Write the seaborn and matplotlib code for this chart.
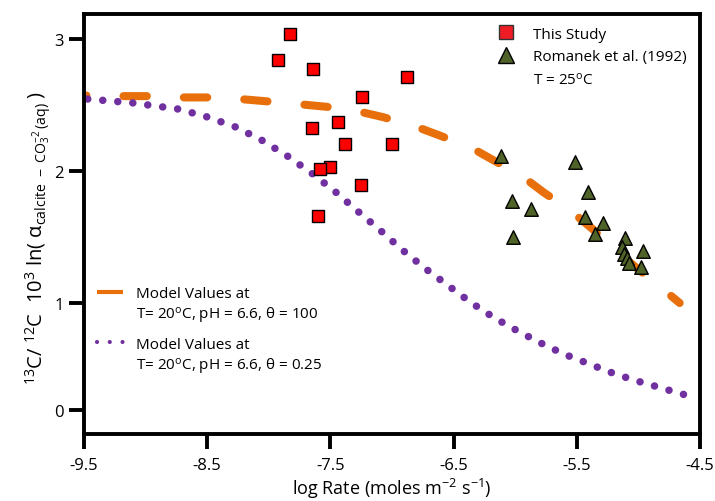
import numpy as np
import pandas as pd
import matplotlib
matplotlib.use("Agg")
import matplotlib.pyplot as plt
import seaborn as sns
from matplotlib.lines import Line2D

# ---------------- data ----------------
study_x = [-7.825, -7.923, -7.641, -6.880, -7.242, -7.652, -7.437, -7.380,
           -7.002, -7.506, -7.587, -7.248, -7.598]
study_y = [3.04, 2.847, 2.776, 2.713, 2.561, 2.328, 2.374, 2.207,
           2.207, 2.030, 2.019, 1.896, 1.663]

romanek_x = [-6.118, -5.516, -6.028, -5.869, -6.018, -5.413, -5.430, -5.286,
             -5.354, -5.110, -5.134, -5.118, -5.093, -5.077, -4.963, -4.980]
romanek_y = [2.118, 2.068, 1.776, 1.713, 1.499, 1.840, 1.650, 1.607,
             1.524, 1.493, 1.425, 1.372, 1.342, 1.304, 1.395, 1.273]

model100_x = [-9.5, -9.2, -8.95, -8.74, -8.49, -8.26, -8.01, -7.77, -7.54,
              -7.30, -7.07, -6.81, -6.61, -6.36, -6.17, -5.94, -5.77, -5.55,
              -5.37, -5.20, -5.02, -4.82, -4.665]
model100_y = [2.575, 2.57, 2.57, 2.56, 2.56, 2.55, 2.53, 2.51, 2.49,
              2.46, 2.41, 2.34, 2.27, 2.18, 2.08, 1.96, 1.84, 1.70,
              1.56, 1.41, 1.27, 1.12, 1.00]

model025_x = [-9.47, -9.10, -8.736, -8.5, -8.27, -8.06, -7.85, -7.655, -7.467,
              -7.28, -7.09, -6.915, -6.736, -6.54, -6.354, -6.167, -5.98,
              -5.793, -5.606, -5.419, -5.232, -5.037, -4.841, -4.646, -4.549]
model025_y = [2.548, 2.518, 2.472, 2.412, 2.336, 2.237, 2.116, 1.987, 1.850,
              1.698, 1.547, 1.402, 1.266, 1.129, 1.0, 0.859, 0.738,
              0.625, 0.522, 0.438, 0.353, 0.278, 0.213, 0.147, 0.119]

xticks = [-9.5, -8.5, -7.5, -6.5, -5.5, -4.5]
xtick_labels = ["-9.5", "-8.5", "-7.5", "-6.5", "-5.5", "-4.5"]
yticks = [0, 1, 2, 3]
ytick_labels = ["0", "1", "2", "3"]

study_label = "This Study"
romanek_label = "Romanek et al. (1992)"
romanek_label2 = r"T = 25$^{\mathrm{o}}$C"
model_label = "Model Values at"
model100_label2 = r"T= 20$^{\mathrm{o}}$C, pH = 6.6, θ = 100"
model025_label2 = r"T= 20$^{\mathrm{o}}$C, pH = 6.6, θ = 0.25"
xlabel = r"log Rate (moles m$^{-2}$ s$^{-1}$)"
ylabel = r"$^{13}$C/ $^{12}$C  10$^{3}$ ln( α$_{\mathrm{calcite\ -\ CO_3^{-2}\,(aq)}}$ )"

# ---------------- style ----------------
sns.set_style("ticks")
plt.rcParams["font.family"] = ["Open Sans", "DejaVu Sans"]
plt.rcParams["mathtext.fontset"] = "custom"
plt.rcParams["mathtext.rm"] = "Open Sans"
plt.rcParams["mathtext.it"] = "Open Sans:italic"
plt.rcParams["mathtext.bf"] = "Open Sans:bold"
plt.rcParams["mathtext.sf"] = "Open Sans"
for key in ["text.color", "axes.labelcolor", "xtick.color", "ytick.color"]:
    plt.rcParams[key] = "black"

ORANGE = "#E8700C"
PURPLE = "#7030A0"
RED = "#FF0000"
GREEN = "#4F6228"

fig = plt.figure(figsize=(7.15, 5.02), dpi=100)
ax = fig.add_axes([0.1175, 0.1325, 0.8615, 0.8386])

# y axis of the original is compressed below 1
K = 0.81
def fwd(y):
    y = np.asarray(y, float)
    return np.where(y < 1, 1 - (1 - y) * K, y)
def inv(t):
    t = np.asarray(t, float)
    return np.where(t < 1, 1 - (1 - t) / K, t)
ax.set_yscale("function", functions=(fwd, inv))

df100 = pd.DataFrame({"x": model100_x, "y": model100_y})
df025 = pd.DataFrame({"x": model025_x, "y": model025_y})
dfs = pd.DataFrame({"x": study_x, "y": study_y})
dfr = pd.DataFrame({"x": romanek_x, "y": romanek_y})

sns.lineplot(data=df100, x="x", y="y", ax=ax, sort=False, estimator=None,
             color=ORANGE, linewidth=5.8, linestyle=(2.6, (2.9, 4.6)),
             dash_capstyle="round", zorder=2)
sns.lineplot(data=df025, x="x", y="y", ax=ax, sort=False, estimator=None,
             color=PURPLE, linewidth=5.4, linestyle=(0, (0.01, 2.0)),
             dash_capstyle="round", zorder=2)
sns.scatterplot(data=dfs, x="x", y="y", ax=ax, marker="s", s=85, color=RED,
                edgecolor="black", linewidth=1.0, zorder=3)
sns.scatterplot(data=dfr, x="x", y="y", ax=ax, marker="^", s=95, color=GREEN,
                edgecolor="black", linewidth=1.0, zorder=3)

ax.set_xlim(-9.5, -4.5)
ax.set_ylim(-0.232, 3.197)
ax.set_xticks(xticks)
ax.set_xticklabels(xtick_labels)
ax.set_yticks(yticks)
ax.set_yticklabels(ytick_labels)
ax.minorticks_off()

for sp in ax.spines.values():
    sp.set_visible(True)
    sp.set_linewidth(2.8)
    sp.set_color("black")
ax.tick_params(axis="x", direction="out", length=11, width=2.8, labelsize=12, pad=5)
ax.tick_params(axis="y", direction="out", length=11, width=2.8, labelsize=12, pad=3.5)

ax.set_xlabel(xlabel, fontsize=13, labelpad=2)
ax.set_ylabel(ylabel, fontsize=14.5)
ax.yaxis.set_label_coords(-0.051, 0.47)

# ---------------- legends ----------------
blank = Line2D([], [], linestyle="none", marker=None)
h_sq = Line2D([], [], linestyle="none", marker="s", markersize=10.5,
              markerfacecolor="#EE1C25", markeredgecolor="#333333", markeredgewidth=1)
h_tr = Line2D([], [], linestyle="none", marker="^", markersize=11,
              markerfacecolor=GREEN, markeredgecolor="black", markeredgewidth=1)
legA = ax.legend([h_sq, h_tr, blank], [study_label, romanek_label, romanek_label2],
                 loc="upper left", bbox_to_anchor=(0.6923, 0.9452),
                 bbox_transform=fig.transFigure, frameon=False, borderpad=0,
                 borderaxespad=0, handlelength=1.4, handletextpad=1.1,
                 labelspacing=0.5, fontsize=11)
ax.add_artist(legA)

h_or = Line2D([], [], color=ORANGE, linewidth=3.0, solid_capstyle="butt")
legB = ax.legend([h_or, blank], [model_label, model100_label2],
                 loc="upper left", bbox_to_anchor=(0.1357, 0.4273),
                 bbox_transform=fig.transFigure, frameon=False, borderpad=0,
                 borderaxespad=0, handlelength=1.7, handletextpad=0.85,
                 labelspacing=0.26, fontsize=11)
ax.add_artist(legB)

h_pu = Line2D([], [], color=PURPLE, linewidth=3.0, linestyle=(0, (0.01, 3.05)),
              dash_capstyle="round")
legC = ax.legend([h_pu, blank], [model_label, model025_label2],
                 loc="upper left", bbox_to_anchor=(0.1357, 0.3276),
                 bbox_transform=fig.transFigure, frameon=False, borderpad=0,
                 borderaxespad=0, handlelength=1.7, handletextpad=0.85,
                 labelspacing=0.26, fontsize=11)

fig.savefig("out.png", dpi=100)
